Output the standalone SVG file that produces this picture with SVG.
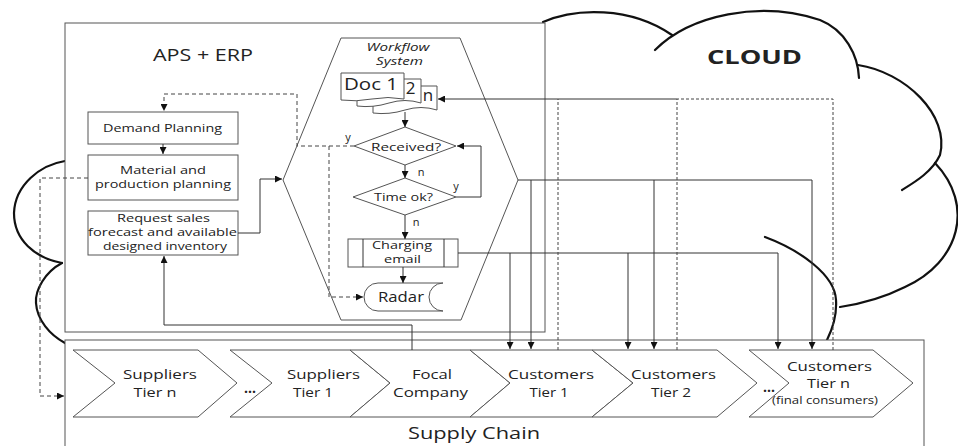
<svg xmlns="http://www.w3.org/2000/svg" width="958" height="446" viewBox="0 0 958 446">
<defs>
<marker id="ar" viewBox="0 0 8 8" refX="8" refY="4" markerWidth="7" markerHeight="7" markerUnits="userSpaceOnUse" orient="auto"><path d="M0,0 L8,4 L0,8 z" fill="#111"/></marker>
<style>
text{font-family:"Open Sans","Liberation Sans",sans-serif;fill:#222;text-anchor:middle}
.box{fill:#fff;stroke:#555;stroke-width:1}
.cloud{fill:none;stroke:#111;stroke-width:2.2;stroke-linecap:round}
.ln{fill:none;stroke:#333;stroke-width:1}
.ds{fill:none;stroke:#444;stroke-width:1;stroke-dasharray:4,3}
.dv{fill:none;stroke:#444;stroke-width:1;stroke-dasharray:3,2}
.s12{font-size:11px}
.s13{font-size:13px}
.lbl{font-size:11px;fill:#222}
</style>
</defs>
<rect width="958" height="446" fill="#fff"/>
<g id="cloud">
<path class="cloud" d="M543,22 C575,8 630,6 672,35"/>
<path class="cloud" d="M655,50 C690,15 760,0 820,20 C845,30 858,55 859,78"/>
<path class="cloud" d="M858,65 C905,72 950,115 940,155 C932,172 915,182 902,190"/>
<path class="cloud" d="M935,163 C975,205 960,262 905,287 C885,297 860,304 840,307"/>
<path class="cloud" d="M765,237 C800,250 835,275 836,300 C837,315 832,330 827,340"/>
<path class="cloud" d="M65,161 C40,165 15,185 14,213 C14,240 35,258 62,263"/>
<path class="cloud" d="M62,263 C45,272 35,290 36,303 C37,320 50,335 65,343"/>
<text x="754.5" y="64" style="font-size:20px;font-weight:bold" fill="#111" textLength="95" lengthAdjust="spacingAndGlyphs">CLOUD</text>
</g>
<g id="aps-erp">
<rect class="box" x="65" y="23" width="480" height="309"/>
<text x="203" y="61" style="font-size:16px" textLength="100" lengthAdjust="spacingAndGlyphs">APS + ERP</text>
</g>
<g id="supply-chain">
<rect class="box" x="65" y="340" width="859" height="130"/>
<text x="474" y="439" style="font-size:16px" textLength="132" lengthAdjust="spacingAndGlyphs">Supply Chain</text>
</g>
<g id="demand-planning">
<rect class="box" x="88" y="112" width="150" height="32"/>
<text class="s12" x="162.5" y="132" textLength="119" lengthAdjust="spacingAndGlyphs">Demand Planning</text>
</g>
<g id="material-planning">
<rect class="box" x="88" y="155" width="150" height="45"/>
<text class="s12" x="163" y="174" textLength="86" lengthAdjust="spacingAndGlyphs">Material and</text>
<text class="s12" x="163" y="188" textLength="136" lengthAdjust="spacingAndGlyphs">production planning</text>
</g>
<g id="request-sales">
<rect class="box" x="88" y="211" width="150" height="44"/>
<text class="s12" x="163.5" y="222" textLength="93" lengthAdjust="spacingAndGlyphs">Request sales</text>
<text class="s12" x="162.5" y="236" textLength="149" lengthAdjust="spacingAndGlyphs">forecast and available</text>
<text class="s12" x="165" y="250" textLength="124" lengthAdjust="spacingAndGlyphs">designed inventory</text>
</g>
<g id="workflow-system">
<polygon class="box" points="341,38 460,38 518,180 461,320 341,320 283,180"/>
<text x="398" y="51" style="font-size:11px;font-style:italic" textLength="63" lengthAdjust="spacingAndGlyphs">Workflow</text>
<text x="399.5" y="65" style="font-size:11px;font-style:italic" textLength="47" lengthAdjust="spacingAndGlyphs">System</text>
</g>
<g id="documents">
<path class="box" d="M373,86 H437 V110 Q421,105 405,110 T373,113 Z"/>
<path class="box" d="M357,79 H421 V103 Q405,98 389,103 T357,106 Z"/>
<path class="box" d="M341,73 H404 V99 Q388,96 372,99 T341,100 Z"/>
<text x="371" y="90" style="font-size:17px" textLength="54" lengthAdjust="spacingAndGlyphs">Doc 1</text>
<text x="410.5" y="94" style="font-size:17px">2</text>
<text x="428" y="101" style="font-size:17px">n</text>
</g>
<g id="received">
<polygon class="box" points="354,146 405,127 456,146 405,165"/>
<text class="s12" x="406" y="151" textLength="70" lengthAdjust="spacingAndGlyphs">Received?</text>
</g>
<g id="time-ok">
<polygon class="box" points="353,197 405,178 456,197 405,215"/>
<text class="s12" x="403.5" y="201" textLength="59" lengthAdjust="spacingAndGlyphs">Time ok?</text>
</g>
<g id="charging-email">
<rect class="box" x="348" y="239" width="110" height="28"/>
<path class="ln" d="M363,239 V267 M444,239 V267"/>
<text class="s12" x="402" y="249" textLength="60" lengthAdjust="spacingAndGlyphs">Charging</text>
<text class="s12" x="402.5" y="263" textLength="37" lengthAdjust="spacingAndGlyphs">email</text>
</g>
<g id="radar">
<path class="box" d="M378,283 H443 A14,14 0 0,0 443,311 H378 A14,14 0 0,1 378,283 Z"/>
<text x="401" y="302" style="font-size:14px" textLength="46" lengthAdjust="spacingAndGlyphs">Radar</text>
</g>
<g id="suppliers-tier-n">
<polygon class="box" points="73,350 198,350 237,383 198,417 73,417 115,383"/>
<text class="s13" x="160" y="379" textLength="74" lengthAdjust="spacingAndGlyphs">Suppliers</text>
<text class="s13" x="155" y="397" textLength="43" lengthAdjust="spacingAndGlyphs">Tier n</text>
</g>
<g id="suppliers-tier-1">
<polygon class="box" points="230,350 350,350 390,383 350,417 230,417 272,383"/>
<text class="s13" x="323.5" y="379" textLength="73" lengthAdjust="spacingAndGlyphs">Suppliers</text>
<text class="s13" x="313" y="397" textLength="40" lengthAdjust="spacingAndGlyphs">Tier 1</text>
</g>
<g id="focal-company">
<polygon class="box" points="350,350 470,350 510,383 470,417 350,417 390,383"/>
<text class="s13" x="432" y="379" textLength="40" lengthAdjust="spacingAndGlyphs">Focal</text>
<text class="s13" x="430.5" y="397" textLength="75" lengthAdjust="spacingAndGlyphs">Company</text>
</g>
<g id="customers-tier-1">
<polygon class="box" points="470,350 592,350 633,383 592,417 470,417 510,383"/>
<text class="s13" x="551" y="379" textLength="86" lengthAdjust="spacingAndGlyphs">Customers</text>
<text class="s13" x="549" y="397" textLength="39" lengthAdjust="spacingAndGlyphs">Tier 1</text>
</g>
<g id="customers-tier-2">
<polygon class="box" points="592,350 717,350 757,383 717,417 592,417 633,383"/>
<text class="s13" x="673.5" y="379" textLength="85" lengthAdjust="spacingAndGlyphs">Customers</text>
<text class="s13" x="671" y="397" textLength="40" lengthAdjust="spacingAndGlyphs">Tier 2</text>
</g>
<g id="customers-tier-n">
<polygon class="box" points="749,350 873,350 913,383 873,417 749,417 789,383"/>
<text class="s13" x="829.5" y="371" textLength="85" lengthAdjust="spacingAndGlyphs">Customers</text>
<text class="s13" x="828.5" y="388" textLength="43" lengthAdjust="spacingAndGlyphs">Tier n</text>
<text x="825" y="404" style="font-size:10px" textLength="106" lengthAdjust="spacingAndGlyphs">(final consumers)</text>
</g>
<g id="ellipses">
<text x="250" y="393" style="font-size:14px;font-weight:bold">...</text>
<text x="769" y="392" style="font-size:14px;font-weight:bold">...</text>
</g>
<g id="connectors">
<path class="ln" d="M163,144 V154" marker-end="url(#ar)"/>
<path class="ln" d="M238,233 H260 V179 H282" marker-end="url(#ar)"/>
<path class="ln" d="M412,350 V325 H164 V256" marker-end="url(#ar)"/>
<path class="ds" d="M354,146 H297 V94 H164 V111" marker-end="url(#ar)"/>
<path class="ds" d="M329,146 V297 H363" marker-end="url(#ar)"/>
<path class="ds" d="M88,178 H40 V396 H64" marker-end="url(#ar)"/>
<path class="ln" d="M405,112 V127" marker-end="url(#ar)"/>
<path class="ln" d="M405,165 V178" marker-end="url(#ar)"/>
<path class="ln" d="M405,215 V239" marker-end="url(#ar)"/>
<path class="ln" d="M403,267 V283" marker-end="url(#ar)"/>
<path class="ln" d="M456,197 H481 V146 H457" marker-end="url(#ar)"/>
<path class="ln" d="M518,180 H812"/>
<path class="ln" d="M531,180 V349" marker-end="url(#ar)"/>
<path class="ln" d="M654,180 V349" marker-end="url(#ar)"/>
<path class="ln" d="M812,180 V349" marker-end="url(#ar)"/>
<path class="ln" d="M458,253 H778"/>
<path class="ln" d="M510,253 V349" marker-end="url(#ar)"/>
<path class="ln" d="M628,253 V349" marker-end="url(#ar)"/>
<path class="ln" d="M778,253 V349" marker-end="url(#ar)"/>
<path class="dv" d="M558,350 V99 M677,350 V99 M833,350 V99 H677"/>
<path class="ln" d="M677,99 H438" marker-end="url(#ar)"/>
<text class="lbl" x="348" y="141">y</text>
<text class="lbl" x="421" y="176">n</text>
<text class="lbl" x="456" y="190">y</text>
<text class="lbl" x="416" y="226">n</text>
</g>
</svg>
